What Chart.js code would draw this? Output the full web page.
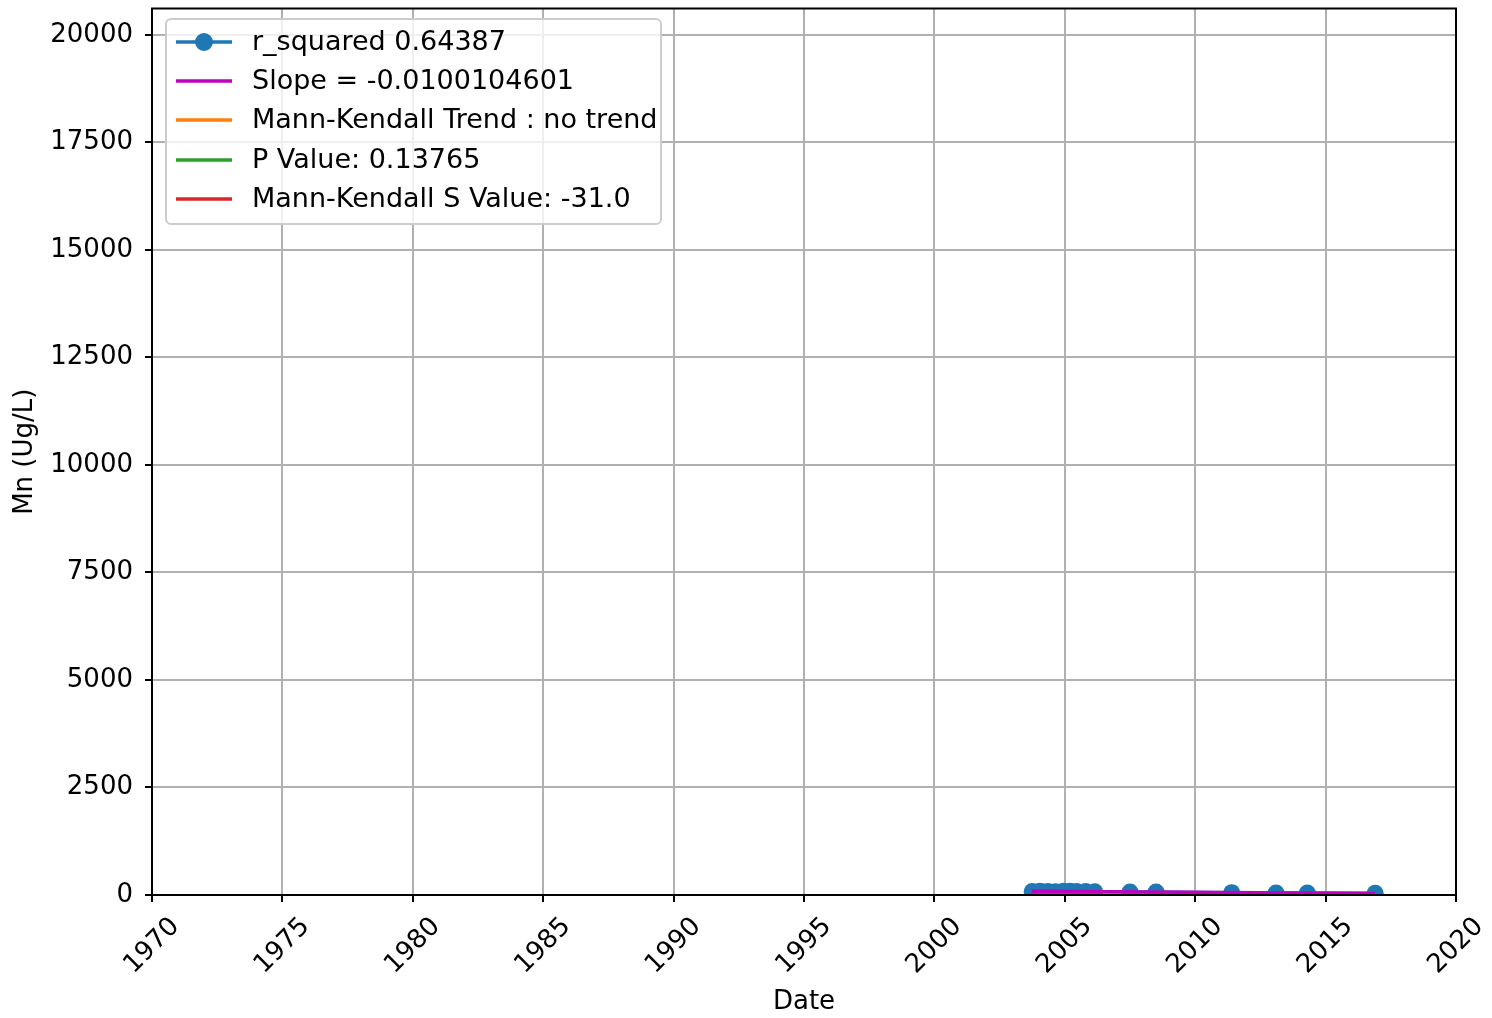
<!DOCTYPE html>
<html>
<head>
<meta charset="utf-8">
<script src="https://cdn.jsdelivr.net/npm/chart.js@4.4.0/dist/chart.umd.min.js"></script>
<style>
    html, body { margin: 0; padding: 0; background: #fff; }
    #wrap { width: 1492px; height: 1018px; }
</style>
</head>
<body>
<div id="wrap"><canvas id="mnChart" width="1492" height="1018"></canvas></div>
<script>
// sample dates (decimal years) and Mn values
const sampleYears = [2003.75, 2004.05, 2004.35, 2004.65, 2004.95, 2005.2, 2005.45, 2005.8, 2006.15,
    2007.5, 2008.5, 2011.4, 2013.1, 2014.3, 2016.9];
const mnValues = [80, 86, 82, 78, 86, 88, 82, 80, 76,
    68, 68, 55, 48, 48, 40];

// Sen slope trend line end points
const trendYears = [2003.75, 2016.9];
const trendValues = [85, 37];

// legend labels
const seriesLabels = [
    'r_squared 0.64387',
    'Slope = -0.0100104601',
    'Mann-Kendall Trend : no trend',
    'P Value: 0.13765',
    'Mann-Kendall S Value: -31.0'
];
const seriesColors = ['#1f77b4', '#bf00bf', '#ff7f0e', '#2ca02c', '#d62728'];

const xTicks = [1970, 1975, 1980, 1985, 1990, 1995, 2000, 2005, 2010, 2015, 2020];
const yTicks = [0, 2500, 5000, 7500, 10000, 12500, 15000, 17500, 20000];

const FONT = 'DejaVu Sans';
const FS = 26;

function toPoints(xs, ys) {
    return xs.map(function(x, i) { return { x: x, y: ys[i] }; });
}

// frame, rotated x labels and the in-plot legend
const decorPlugin = {
    id: 'decor',
    afterDraw: function(chart) {
        const ctx = chart.ctx;
        const area = chart.chartArea;
        const xs = chart.scales.x;

        ctx.save();
        ctx.strokeStyle = '#000';
        ctx.lineWidth = 2;
        ctx.strokeRect(area.left, area.top, area.right - area.left, area.bottom - area.top);

        // x tick labels, rotated 45 deg, centred under tick
        ctx.fillStyle = '#000';
        ctx.font = FS + 'px "' + FONT + '"';
        ctx.textAlign = 'center';
        ctx.textBaseline = 'middle';
        xTicks.forEach(function(t) {
            const px = xs.getPixelForValue(t);
            ctx.save();
            ctx.translate(px, area.bottom + 51);
            ctx.rotate(-Math.PI / 4);
            ctx.fillText(String(t), 0, 0);
            ctx.restore();
        });

        // legend box
        const bx = 166, by = 19, bw = 495, bh = 205, r = 5;
        ctx.beginPath();
        ctx.moveTo(bx + r, by);
        ctx.arcTo(bx + bw, by, bx + bw, by + bh, r);
        ctx.arcTo(bx + bw, by + bh, bx, by + bh, r);
        ctx.arcTo(bx, by + bh, bx, by, r);
        ctx.arcTo(bx, by, bx + bw, by, r);
        ctx.closePath();
        ctx.fillStyle = 'rgba(255,255,255,0.8)';
        ctx.fill();
        ctx.strokeStyle = '#cccccc';
        ctx.lineWidth = 2;
        ctx.stroke();

        const rowY = [42, 81, 120, 160, 199];
        ctx.font = '27px "' + FONT + '"';
        seriesLabels.forEach(function(label, i) {
            const y = rowY[i];
            ctx.strokeStyle = seriesColors[i];
            ctx.lineWidth = 3.5;
            ctx.beginPath();
            ctx.moveTo(176, y);
            ctx.lineTo(232, y);
            ctx.stroke();
            if (i === 0) {
                ctx.fillStyle = seriesColors[0];
                ctx.beginPath();
                ctx.arc(204, y, 9, 0, Math.PI * 2);
                ctx.fill();
            }
            ctx.fillStyle = '#000';
            ctx.textAlign = 'left';
            ctx.fillText(label, 252, y + 1);
        });
        ctx.restore();
    }
};

const ctx = document.getElementById('mnChart');
new Chart(ctx, {
    type: 'line',
    data: {
        datasets: [
            {
                label: seriesLabels[0],
                data: toPoints(sampleYears, mnValues),
                borderColor: seriesColors[0],
                backgroundColor: seriesColors[0],
                borderWidth: 3.5,
                pointRadius: 8.5,
                pointBorderWidth: 0,
                pointBackgroundColor: seriesColors[0],
                clip: 0,
                order: 2
            },
            {
                label: seriesLabels[1],
                data: toPoints(trendYears, trendValues),
                borderColor: seriesColors[1],
                borderWidth: 3.5,
                pointRadius: 0,
                clip: 0,
                order: 1
            },
            { label: seriesLabels[2], data: [], borderColor: seriesColors[2], pointRadius: 0 },
            { label: seriesLabels[3], data: [], borderColor: seriesColors[3], pointRadius: 0 },
            { label: seriesLabels[4], data: [], borderColor: seriesColors[4], pointRadius: 0 }
        ]
    },
    options: {
        responsive: false,
        animation: false,
        layout: { padding: { left: 0, right: 36, top: 6, bottom: 0 } },
        plugins: {
            legend: { display: false },
            tooltip: { enabled: false }
        },
        scales: {
            x: {
                type: 'linear',
                min: 1970,
                max: 2020,
                afterBuildTicks: function(scale) {
                    scale.ticks = xTicks.map(function(v) { return { value: v }; });
                },
                afterFit: function(scale) {
                    scale.height = 123;
                    scale.paddingLeft = 0;
                    scale.paddingRight = 0;
                },
                ticks: {
                    color: 'rgba(0,0,0,0)',
                    font: { family: FONT, size: FS },
                    maxRotation: 0,
                    autoSkip: false
                },
                grid: {
                    color: '#b0b0b0',
                    lineWidth: 2,
                    tickColor: '#000',
                    tickLength: 7
                },
                border: { display: false },
                title: {
                    display: true,
                    text: 'Date',
                    color: '#000',
                    font: { family: FONT, size: FS },
                    padding: { top: 0, bottom: 0 }
                }
            },
            y: {
                type: 'linear',
                min: 0,
                max: 20614,
                afterBuildTicks: function(scale) {
                    scale.ticks = yTicks.map(function(v) { return { value: v }; });
                },
                afterFit: function(scale) {
                    scale.width = 152;
                    scale.paddingTop = 0;
                    scale.paddingBottom = 0;
                },
                ticks: {
                    color: '#000',
                    font: { family: FONT, size: FS },
                    padding: 12,
                    callback: function(v) { return String(v); }
                },
                grid: {
                    color: '#b0b0b0',
                    lineWidth: 2,
                    tickColor: '#000',
                    tickLength: 7
                },
                border: { display: false },
                title: {
                    display: true,
                    text: 'Mn (Ug/L)',
                    color: '#000',
                    font: { family: FONT, size: FS },
                    padding: { top: 10, bottom: 0 }
                }
            }
        }
    },
    plugins: [decorPlugin]
});
</script>
</body>
</html>
